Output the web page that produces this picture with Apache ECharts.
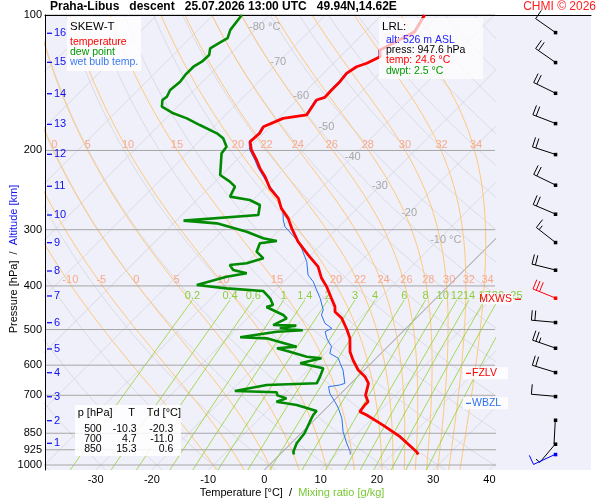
<!DOCTYPE html>
<html lang="en">
<head>
<meta charset="UTF-8">
<title>SKEW-T Praha-Libus</title>
<script src="https://cdn.jsdelivr.net/npm/echarts@6.0.0/dist/echarts.min.js"></script>
<style>
    html, body { margin: 0; padding: 0; background: #fff; }
    #main { width: 600px; height: 500px; }
</style>
</head>
<body>
<div id="main"></div>
<script type="text/javascript">
// ---- sounding ----
var tempP = [100, 108.9, 119.6, 123.8, 128.0, 130.3, 134.8, 140.7, 146.8, 152.4,
    154.5, 162.6, 166.8, 169.7, 177.1, 183.2, 191.2, 199.5, 210.0, 219.2,
    228.8, 242.7, 255.5, 269.0, 283.1, 297.9, 319.0, 341.5, 362.5, 384.8,
    401.6, 426.2, 444.6, 456.3, 472.1, 500, 523.0, 560.1, 584.3, 615.0,
    636.3, 658.4, 700, 723.4, 735.6, 761.3, 774.3, 815.2, 865.2, 934.2, 947.6];
var tempT = [-52.4, -51.2, -54.1, -52.9, -54.1, -55.3, -55.9, -55.6, -55.6, -55.5,
    -56.5, -55.9, -55.6, -59.2, -61.2, -60.7, -60.9, -59.2, -56.5, -54.4,
    -52.0, -49.1, -45.8, -43.5, -40.5, -38.1, -34.6, -30.4, -26.6, -23.9,
    -21.5, -18.6, -16.5, -15.6, -13.2, -10.3, -8.2, -5.8, -3.8, -1.1,
    1.3, 3.1, 4.7, 6.3, 6.3, 6.6, 8.4, 13.1, 18.2, 23.8, 24.6];

var dewP = [100, 107.9, 112.6, 115.2, 118.6, 122.7, 127.0, 130.3, 135.9, 140.7,
    146.8, 151.9, 154.5, 159.9, 165.4, 169.7, 175.6, 183.2, 187.9, 196.2,
    203.0, 226.8, 234.6, 240.7, 253.3, 257.7, 264.4, 278.3, 286.4, 290.4,
    303.1, 313.5, 317.8, 321.6, 335.7, 347.3, 356.3, 359.4, 368.6, 375.0,
    381.5, 398.1, 405.0, 410.6, 426.2, 441.0, 445.6, 464.2, 472.1, 488.7,
    490.0, 496.0, 500, 502, 505.5, 520.2, 523.0, 545.8, 550.4, 560.1,
    574.6, 579.4, 594.3, 609.8, 636.3, 658.4, 664.0, 684.7, 689.3, 700,
    711.1, 723.4, 735.6, 758.6, 774.3, 801.2, 850, 895.0, 934.2, 947.6];
var dewT = [-84.9, -84.3, -83.3, -83.9, -84.6, -83.6, -83.7, -84.3, -84.3, -84.0,
    -84.3, -83.7, -83.9, -82.8, -79.6, -76.3, -72.8, -68.3, -66.3, -64.2,
    -63.9, -60.3, -57.4, -55.6, -54.7, -50.6, -47.9, -46.4, -58.7, -52.3,
    -45.5, -41.4, -38.5, -41.1, -40.2, -37.8, -39.9, -42.6, -41.1, -38.1,
    -41.1, -44.9, -39.0, -32.0, -29.5, -27.8, -28.6, -24.2, -23.0, -24.2,
    -20.0, -22.5, -20.3, -18.0, -22.4, -27.9, -23.0, -16.2, -19.4, -16.5,
    -12.6, -9.7, -12.6, -7.6, -6.7, -6.1, -14.7, -19.3, -11.6, -11.0,
    -8.8, -10.0, -5.8, -1.2, -1.1, -0.5, 0.6, 1.0, 1.9, 2.5];

var wbP = [100, 108.9, 119.6, 123.8, 128.0, 130.3, 134.8, 140.7, 146.8, 152.4,
    154.5, 162.6, 166.8, 169.7, 177.1, 183.2, 191.2, 199.5, 210.0, 219.2,
    234.6, 251.2, 273.6, 285.4, 295.4, 316.2, 330.0, 353.3, 378.3, 391.4,
    408.5, 426.2, 441.0, 452.2, 464.2, 484.4, 496.9, 505.5, 523.0, 545.8,
    564.8, 579.4, 594.3, 615.0, 658.4, 664.0, 669.9, 693.0, 723.4, 748.2,
    787.7, 843.7, 895.0, 934.2, 947.6];
var wbT = [-52.6, -51.4, -54.3, -53.1, -54.3, -55.5, -56.1, -55.8, -55.8, -55.7,
    -56.7, -56.1, -55.8, -59.4, -61.4, -60.9, -61.1, -59.5, -56.8, -54.7,
    -50.9, -46.7, -42.6, -41.1, -39.6, -35.1, -32.8, -29.5, -26.9, -24.8,
    -22.7, -20.6, -19.1, -18.0, -17.4, -15.3, -13.2, -13.8, -12.3, -10.0,
    -9.1, -6.7, -5.5, -3.8, -1.1, -1.7, -3.4, -2.0, 0.4, 2.2,
    4.6, 7.2, 9.9, 12.0, 12.5];

// wind barbs: pressure, direction [deg], speed [kt]
var barbP = [109.3, 127.4, 149.1, 174.1, 204.0, 238.6, 276.8, 320.0, 368.6, 425.4,
    481.8, 549.5, 622.3, 703.7, 794.3, 898.0, 946.7];
var barbDir = [305, 305, 296, 291, 288, 296, 293, 308, 284, 292, 275, 289, 287, 275, 183, 220, 245];
var barbSpd = [10, 20, 20, 20, 20, 20, 20, 15, 20, 30, 20, 25, 20, 10, 2, 5, 10];
var barbKind = ['', '', '', '', '', '', '', '', '', 'max', '', '', '', '', '', '', 'sfc'];

// special levels
var levelName = ['MXWS', 'FZLV', 'WBZL'];
var levelP = [428.3, 625.6, 729.4];

// table of standard levels
var tableP = [500, 700, 850];
var tableT = [-10.3, 4.7, 15.3];
var tableTd = [-20.3, -11.0, 0.6];

// axes
var pressTicks = [100, 200, 300, 400, 500, 600, 700, 850, 925, 1000];
var longPress = [850, 925, 1000];
var tempTicks = [-30, -20, -10, 0, 10, 20, 30, 40];
var altKm = [16, 15, 14, 13, 12, 11, 10, 9, 8, 7, 6, 5, 4, 3, 2, 1];
var altP = [109.8, 127.4, 149.6, 175.0, 204.0, 240.2, 278.3, 320.6, 370.6, 421.1,
    482.8, 552.3, 623.6, 705.2, 797.2, 894.9];

// background lines of the diagram
var isoT = [-120, -110, -100, -90, -80, -70, -60, -50, -40, -30, -20, -10, 0, 10, 20, 30, 40];
var isoLabelT = [-80, -70, -60, -50, -40, -30, -20, -10];
var isoLabelP = [106.5, 127.4, 151.1, 177.1, 206.4, 239.5, 275.0, 316.2];
var dryT = [-40, -30, -20, -10, 0, 10, 20, 30, 40, 50, 60, 70, 80, 90, 100, 110, 120, 130, 140, 150, 160, 170, 180];
var thetaW = [-10, -5, 0, 5, 10, 15, 20, 22, 24, 26, 28, 30, 32, 34];
var thetaWLabelP = [194.5, 388];
var mixW = [0.2, 0.4, 0.6, 1, 1.4, 2, 3, 4, 6, 8, 10, 12, 14, 17, 20, 25];
var mixTopP = 430;

// ---- skew-T geometry ----
var P0 = 1025.9;   // pressure at the bottom edge
var SKEW = 80;     // degrees of skew per pressure decade
var xMin = -39, xMax = 41;
var FONT = '"Liberation Sans", Arial, sans-serif';

function sx(t, p) { return t + SKEW * Math.log10(P0 / p); }
function esat(tc) { return 6.112 * Math.exp(17.67 * tc / (tc + 243.5)); }
function moistRate(tk, p) {
    var es = esat(tk - 273.15), rs = 0.622 * es / (p - es);
    return (287.04 * tk + 2.501e6 * rs) / (1005.7 + 2.501e6 * 2.501e6 * rs * 0.622 / (287.04 * tk * tk));
}
function moistT(thw, pt) {
    var tk = thw + 273.15, lp = Math.log(1000), lt = Math.log(pt);
    var n = Math.max(1, Math.ceil(Math.abs(lt - lp) / 0.02)), h = (lt - lp) / n;
    for (var i = 0; i < n; i++) {
        var k1 = moistRate(tk, Math.exp(lp));
        var k2 = moistRate(tk + h / 2 * k1, Math.exp(lp + h / 2));
        var k3 = moistRate(tk + h / 2 * k2, Math.exp(lp + h / 2));
        var k4 = moistRate(tk + h * k3, Math.exp(lp + h));
        tk += h * (k1 + 2 * k2 + 2 * k3 + k4) / 6;
        lp += h;
    }
    return tk - 273.15;
}
function mixTd(w, p) {
    var e = w * p / (622 + w), l = Math.log(e / 6.112);
    return 243.5 * l / (17.67 - l);
}

var pGrid = [];
for (var k = 0; k <= 60; k++) pGrid.push(P0 * Math.pow(100 / P0, k / 60));
var mixP = [P0, 1000, 950, 900, 850, 800, 750, 700, 650, 600, 550, 500, 460, mixTopP];

var series = [];
function addCurve(pts, color, width, z, clip) {
    series.push({
        type: 'line', xAxisIndex: 0, yAxisIndex: 0, data: pts, symbol: 'none',
        silent: true, animation: false, clip: clip !== false, z: z,
        lineStyle: {color: color, width: width}
    });
}
function addTexts(pts, texts, color, size, align, vAlign, dx, dy, z) {
    series.push({
        type: 'custom', xAxisIndex: 0, yAxisIndex: 0, data: pts, silent: true, z: z,
        renderItem: function (params, api) {
            var c = api.coord([api.value(0), api.value(1)]);
            return {
                type: 'text', x: c[0] + dx, y: c[1] + dy,
                style: {text: texts[params.dataIndex], fill: color, fontSize: size,
                    fontFamily: FONT, align: align, verticalAlign: vAlign}
            };
        }
    });
}

isoT.forEach(function (t) {
    addCurve([[sx(t, P0), P0], [sx(t, 100), 100]], t === 0 ? '#7a7a7a' : '#d6d6dc', 0.8, 1);
});
dryT.forEach(function (th) {
    addCurve(pGrid.map(function (p) {
        return [sx((th + 273.15) * Math.pow(p / 1000, 0.2857) - 273.15, p), p];
    }), '#d6d6dc', 0.8, 1);
});
thetaW.forEach(function (tw) {
    addCurve(pGrid.map(function (p) { return [sx(moistT(tw, p), p), p]; }), '#ffc878', 1, 1);
});
mixW.forEach(function (w) {
    addCurve(mixP.map(function (p) { return [sx(mixTd(w, p), p), p]; }), '#92d22c', 0.8, 1, false);
});

// pressure levels
pressTicks.forEach(function (p) {
    var ext = longPress.indexOf(p) >= 0;
    addCurve([[xMin, p], [ext ? xMax + 50 / 5.625 : xMax, p]], '#a6a6a6', 1, 2, false);
});

// labels on the background lines
addTexts(isoLabelT.map(function (t, i) { return [sx(t, isoLabelP[i]), isoLabelP[i]]; }),
    isoLabelT.map(function (t) { return (t === -80 || t === -10) ? t + ' °C' : String(t); }),
    '#a8a8a8', 11, 'left', 'middle', -8, 0, 3);
var mwPts = [], mwTxt = [];
thetaWLabelP.forEach(function (p) {
    thetaW.forEach(function (tw) {
        var x = sx(moistT(tw, p), p);
        if (x > xMin + 0.5 && x < xMax - 0.5) { mwPts.push([x, p]); mwTxt.push(String(tw)); }
    });
});
addTexts(mwPts, mwTxt, '#f7a98c', 11, 'center', 'middle', 3, 0, 3);
addTexts(mixW.map(function (w) { return [sx(mixTd(w, mixTopP), mixTopP), mixTopP]; }),
    mixW.map(String), '#8ccd3c', 11, 'center', 'bottom', 0, 1, 3);
addTexts(pressTicks.map(function (p) { return [xMin, p]; }), pressTicks.map(String),
    '#000', 11, 'right', 'middle', -3, 0, 3);

// altitude ticks
series.push({
    type: 'custom', xAxisIndex: 0, yAxisIndex: 0, silent: true, z: 4,
    data: altP.map(function (p, i) { return [xMin, p, altKm[i]]; }),
    renderItem: function (params, api) {
        var c = api.coord([api.value(0), api.value(1)]);
        return {type: 'group', children: [
            {type: 'line', shape: {x1: c[0] + 2, y1: c[1], x2: c[0] + 7, y2: c[1]},
                style: {stroke: '#1010f0', lineWidth: 1.3}},
            {type: 'text', x: c[0] + 9, y: c[1],
                style: {text: String(api.value(2)), fill: '#1010f0', fontSize: 11, fontFamily: FONT,
                    align: 'left', verticalAlign: 'middle'}}
        ]};
    }
});

// sounding
function zipPT(P, T) { return P.map(function (p, i) { return [sx(T[i], p), p]; }); }
addCurve(zipPT(wbP, wbT), '#2a72ec', 1, 5);
addCurve(zipPT(dewP, dewT), '#008a00', 2.6, 6);
addCurve(zipPT(tempP, tempT), '#ff0000', 2.8, 7);

// wind barbs
series.push({
    type: 'custom', xAxisIndex: 0, yAxisIndex: 0, silent: true, z: 8,
    data: barbP.map(function (p, i) {
        var col = barbKind[i] === 'max' ? '#ff0000' : (barbKind[i] === 'sfc' ? '#0000ff' : '#000000');
        return {value: [xMin, p, barbDir[i], barbSpd[i]], itemStyle: {color: col}};
    }),
    renderItem: function (params, api) {
        var cs = params.coordSys;
        var y = api.coord([xMin, api.value(1)])[1];
        var x = cs.x + cs.width + 60.3;
        var d = api.value(2) * Math.PI / 180, spd = api.value(3);
        var ux = Math.sin(d), uy = -Math.cos(d), rx = -uy, ry = ux;
        var tipX = x + ux * 24, tipY = y + uy * 24;
        var col = api.visual('color');
        var kids = [
            {type: 'rect', shape: {x: x - 1.5, y: y - 1.5, width: 3.5, height: 3.5}, style: {fill: col}},
            {type: 'line', shape: {x1: x, y1: y, x2: tipX, y2: tipY}, style: {stroke: col, lineWidth: 1}}
        ];
        var n = Math.round(spd / 5), full = Math.floor(n / 2), half = n % 2, pos = 0;
        for (var i = 0; i < full + half; i++) {
            var len = i < full ? 10 : 5;
            var bx = tipX - ux * pos, by = tipY - uy * pos;
            kids.push({type: 'line', shape: {x1: bx, y1: by, x2: bx + rx * len, y2: by + ry * len},
                style: {stroke: col, lineWidth: 1}});
            pos += 3.5;
        }
        return {type: 'group', children: kids};
    }
});

// special levels
series.push({
    type: 'custom', xAxisIndex: 0, yAxisIndex: 0, silent: true, z: 9,
    data: levelP.map(function (p) { return [xMin, p]; }),
    renderItem: function (params, api) {
        var name = levelName[params.dataIndex];
        var cs = params.coordSys, right = cs.x + cs.width;
        var y = api.coord([xMin, api.value(1)])[1];
        var col = name === 'WBZL' ? '#2a72ec' : '#ff0000';
        if (name === 'MXWS') {
            return {type: 'group', children: [
                {type: 'rect', shape: {x: right - 13, y: y - 6, width: 31, height: 11}, style: {fill: 'rgba(255,255,255,0.85)'}},
                {type: 'text', x: right + 17, y: y, style: {text: name, fill: col, fontSize: 10.5, fontFamily: FONT, align: 'right', verticalAlign: 'middle'}},
                {type: 'line', shape: {x1: right + 20, y1: y, x2: right + 26, y2: y}, style: {stroke: col, lineWidth: 1.2}}
            ]};
        }
        return {type: 'group', children: [
            {type: 'rect', shape: {x: right - 32, y: y - 6, width: 45, height: 12}, style: {fill: 'rgba(255,255,255,0.85)'}},
            {type: 'line', shape: {x1: right - 29, y1: y, x2: right - 24, y2: y}, style: {stroke: col, lineWidth: 1.2}},
            {type: 'text', x: right - 23, y: y, style: {text: name, fill: col, fontSize: 10.5, fontFamily: FONT, align: 'left', verticalAlign: 'middle'}}
        ]};
    }
});

// ---- boxes with text ----
function gText(x, y, text, color, size, align) {
    return {type: 'text', x: x, y: y, z: 60, silent: true,
        style: {text: text, fill: color, fontSize: size, fontFamily: FONT, align: align || 'left', verticalAlign: 'middle'}};
}
function gBox(x, y, w, h, op) {
    return {type: 'rect', z: 59, silent: true, shape: {x: x, y: y, width: w, height: h},
        style: {fill: 'rgba(255,255,255,' + op + ')'}};
}
var els = [
    gBox(67, 17, 74, 54, 0.85),
    gText(70, 27, 'SKEW-T', '#000', 11.5),
    gText(70, 42.3, 'temperature', '#ff0000', 10.5),
    gText(70, 51.7, 'dew point', '#009a00', 10.5),
    gText(70, 61.7, 'wet bulb temp.', '#3a7af0', 10.5),
    gBox(379, 18, 104, 61, 0.72),
    gText(382, 27.3, 'LRL:', '#000', 11.5),
    gText(386, 39.7, 'alt: 526 m ASL', '#2020ff', 10.5),
    gText(386, 50, 'press: 947.6 hPa', '#000', 10.5),
    gText(386, 60.3, 'temp: 24.6 °C', '#ff0000', 10.5),
    gText(386, 70.7, 'dwpt: 2.5 °C', '#009a00', 10.5),
    gBox(75, 405, 106, 51, 0.85),
    gText(77.7, 413.3, 'p [hPa]', '#000', 11),
    gText(128.3, 413.3, 'T', '#000', 11),
    gText(146.7, 413.3, 'Td [°C]', '#000', 11)
];
tableP.forEach(function (p, i) {
    var y = 428.7 + 10 * i;
    els.push(gText(101.7, y, String(p), '#000', 10.5, 'right'));
    els.push(gText(136.7, y, tableT[i].toFixed(1), '#000', 10.5, 'right'));
    els.push(gText(173.3, y, tableTd[i].toFixed(1), '#000', 10.5, 'right'));
});
els.push({type: 'text', x: 292, y: 493, z: 60, silent: true,
    style: {text: '{a|Temperature [°C]  /  }{b|Mixing ratio [g/kg]}', align: 'center', verticalAlign: 'middle',
        rich: {a: {fill: '#000', fontSize: 11, fontFamily: FONT}, b: {fill: '#78c832', fontSize: 11, fontFamily: FONT}}}});
els.push({type: 'text', x: 14, y: 259, z: 60, silent: true, rotation: Math.PI / 2,
    style: {text: '{a|Pressure [hPa]  /  }{b|Altitude [km]}', align: 'center', verticalAlign: 'middle',
        rich: {a: {fill: '#000', fontSize: 11, fontFamily: FONT}, b: {fill: '#1010f0', fontSize: 11, fontFamily: FONT}}}});

var chart = echarts.init(document.getElementById('main'));
var option = {
    animation: false,
    textStyle: {fontFamily: FONT},
    title: [
        {text: 'Praha-Libus   descent   25.07.2026 13:00 UTC   49.94N,14.62E', left: 50, top: 1, padding: 0,
            textStyle: {fontSize: 12, fontWeight: 'bold', color: '#000', fontFamily: FONT}},
        {text: 'CHMI © 2026', right: 4, top: 1, padding: 0,
            textStyle: {fontSize: 12, fontWeight: 'normal', color: '#ff2020', fontFamily: FONT}}
    ],
    grid: [
        {left: 45, top: 15, width: 450, height: 455, show: false},
        {left: 45, top: 15, width: 546, height: 455, show: true, backgroundColor: '#f0f0fb', borderWidth: 0, z: -1}
    ],
    xAxis: [
        {gridIndex: 0, type: 'value', min: xMin, max: xMax, z: 5,
            axisLine: {show: false, onZero: false}, axisTick: {show: false}, splitLine: {show: false},
            axisLabel: {customValues: tempTicks, color: '#000', fontSize: 11, margin: 4, fontFamily: FONT}},
        {gridIndex: 1, type: 'value', min: 0, max: 1, position: 'top', z: 5,
            axisLine: {show: true, onZero: false, lineStyle: {color: '#000', width: 1}},
            axisTick: {show: false}, axisLabel: {show: false}, splitLine: {show: false}}
    ],
    yAxis: [
        {gridIndex: 0, type: 'log', logBase: 10, min: 100, max: P0, inverse: true, z: 5,
            axisLine: {show: true, onZero: false, lineStyle: {color: '#000', width: 1}},
            axisTick: {show: false}, axisLabel: {show: false}, splitLine: {show: false}, minorSplitLine: {show: false}},
        {gridIndex: 1, type: 'value', min: 0, max: 1, show: false}
    ],
    series: series,
    graphic: {elements: els}
};
chart.setOption(option);
</script>
</body>
</html>
